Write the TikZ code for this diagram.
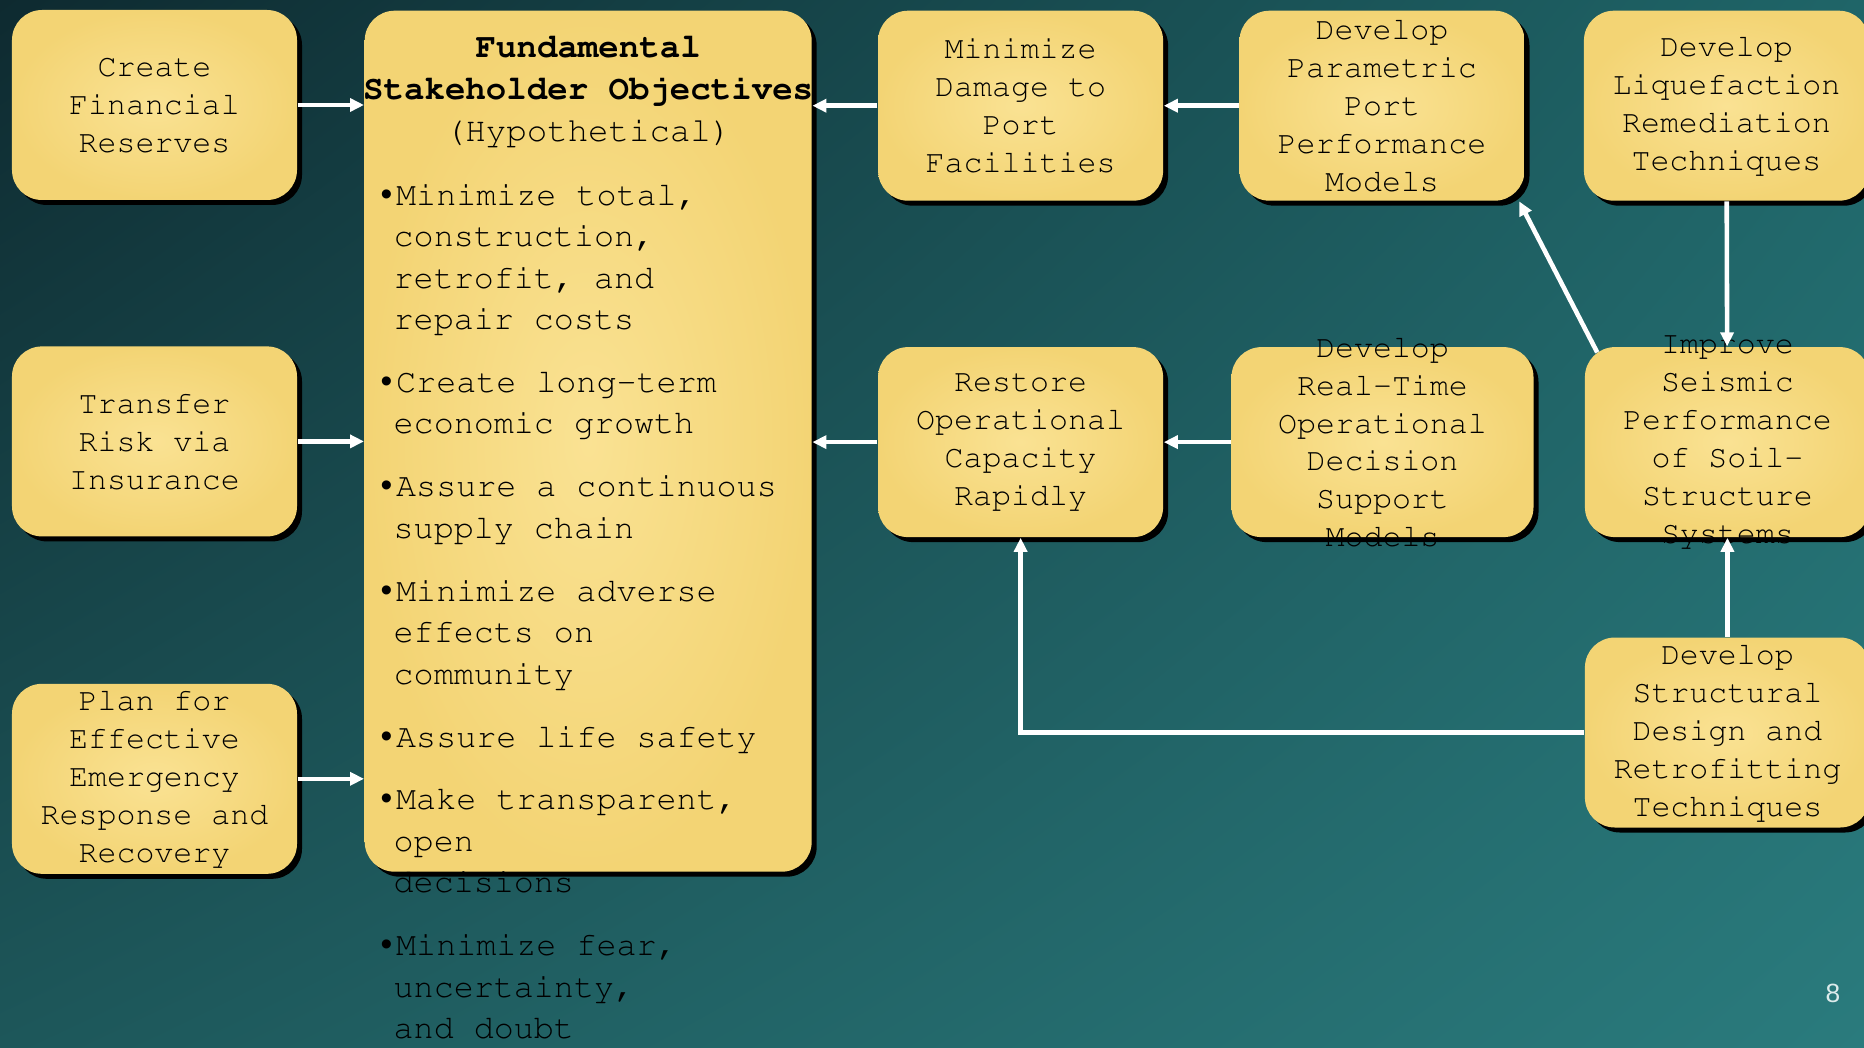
\documentclass[tikz,border=0pt]{standalone}
\usepackage[T1]{fontenc}
\usepackage{fontspec}
\newfontfamily\pagefont{Liberation Sans}
\newcommand{\courierfont}{\fontencoding{T1}\fontfamily{pcr}\selectfont}
\usetikzlibrary{arrows.meta, positioning, shadows, shadings}
\definecolor{BgDark}{HTML}{0E2A30}
\definecolor{BgTopRight}{HTML}{1F6568}
\definecolor{BgBottomLeft}{HTML}{1D575A}
\definecolor{BgLight}{HTML}{2A7B7D}
\definecolor{BoxYellow}{HTML}{F3D474}
\definecolor{BoxLight}{HTML}{FAE293}
\definecolor{PageGrey}{HTML}{DCEBEB}
\newcommand{\listbullet}{\makebox[0.155cm][l]{\pagefont •}}
\newcommand{\contind}{\makebox[0.13cm]{}}
\tikzset{
    box/.style={rounded corners=0.3cm, inner color=BoxLight, outer color=BoxYellow, minimum width=2.85cm, minimum height=1.9cm, inner sep=0pt, general shadow={fill=black, shadow xshift=0.05cm, shadow yshift=-0.05cm}},
    bigbox/.style={box, minimum width=4.47cm, minimum height=8.61cm},
    boxtext/.style={font=\courierfont\fontsize{9}{10.8}\selectfont, align=center, inner sep=0pt},
    titletext/.style={font=\courierfont\fontsize{9.7}{12}\selectfont, align=center, inner sep=0pt},
    listtext/.style={font=\courierfont\fontsize{9.5}{11.8}\selectfont, align=left, inner sep=0pt},
    arr/.style={-{Triangle[length=0.14cm, width=0.13cm]}, line width=1.3pt, draw=white}
}

\begin{document}
\begin{tikzpicture}
    \useasboundingbox (0,0) rectangle (18.64,-10.48);
    \shade[upper left=BgDark, upper right=BgTopRight, lower left=BgBottomLeft, lower right=BgLight] (0,0) rectangle (18.64,-10.48);

    % Means objectives (left column)
    \node[box, label={[boxtext]center:Create\\Financial\\Reserves}] (create) at (1.545,-1.05) {};
    \node[box, below=1.45cm of create, label={[boxtext]center:Transfer\\Risk via\\Insurance}] (transfer) {};
    \node[box, below=1.46cm of transfer, label={[boxtext]center:Plan for\\Effective\\Emergency\\Response and\\Recovery}] (plan) {};

    % Fundamental objectives
    \node[bigbox, anchor=north west] (fund) at (3.64,-0.10) {};
    \node[titletext, anchor=north] (fundtitle) at ([yshift=-0.25cm]fund.north) {\textbf{Fundamental}\\\textbf{Stakeholder Objectives}\\(Hypothetical)};
    \node[listtext, anchor=north west] (fundlist) at (3.80,-1.83) {%
        \listbullet Minimize total,\\
        \contind construction,\\
        \contind retrofit, and\\
        \contind repair costs\\[6.1pt]
        \listbullet Create long-term\\
        \contind economic growth\\[6.1pt]
        \listbullet Assure a continuous\\
        \contind supply chain\\[6.1pt]
        \listbullet Minimize adverse\\
        \contind effects on\\
        \contind community\\[6.1pt]
        \listbullet Assure life safety\\[6.1pt]
        \listbullet Make transparent,\\
        \contind open\\
        \contind decisions\\[6.1pt]
        \listbullet Minimize fear,\\
        \contind uncertainty,\\
        \contind and doubt};

    % Top row
    \node[box, anchor=north west, label={[boxtext]center:Minimize\\Damage to\\Port\\Facilities}] (minimize) at ([xshift=0.65cm]fund.north east) {};
    \node[box, right=0.75cm of minimize, label={[boxtext]center:Develop\\Parametric\\Port\\Performance\\Models}] (param) {};
    \node[box, right=0.58cm of param, label={[boxtext]center:Develop\\Liquefaction\\Remediation\\Techniques}] (liquef) {};

    % Middle row
    \node[box, below=1.45cm of minimize, label={[boxtext]center:Restore\\Operational\\Capacity\\Rapidly}] (restore) {};
    \node[box, minimum width=3.02cm, right=0.67cm of restore, label={[boxtext]center:Develop\\Real-Time\\Operational\\Decision\\Support\\Models}] (realtime) {};
    \node[box, right=0.50cm of realtime, label={[boxtext]center:Improve\\Seismic\\Performance\\of Soil-\\Structure\\Systems}] (improve) {};

    % Bottom right
    \node[box, below=0.99cm of improve, label={[boxtext]center:Develop\\Structural\\Design and\\Retrofitting\\Techniques}] (structural) {};

    \node[font=\pagefont\fontsize{7.5}{9}\selectfont, text=PageGrey] (pagenum) at (18.33,-9.93) {8};

    % Connections
    \draw[arr] (create) -- (create -| fund.west);
    \draw[arr] (transfer) -- (transfer -| fund.west);
    \draw[arr] (plan) -- (plan -| fund.west);
    \draw[arr] (minimize) -- (minimize -| fund.east);
    \draw[arr] (param) -- (minimize);
    \draw[arr] (restore) -- (restore -| fund.east);
    \draw[arr] (realtime) -- (restore);
    \draw[arr] ([xshift=0.13cm,yshift=-0.06cm]improve.north west) -- ([xshift=-0.06cm]param.south east);
    \draw[arr] (liquef) -- (improve);
    \draw[arr] (structural) -- (improve);
    \draw[arr] (structural) -| (restore);
\end{tikzpicture}
\end{document}
